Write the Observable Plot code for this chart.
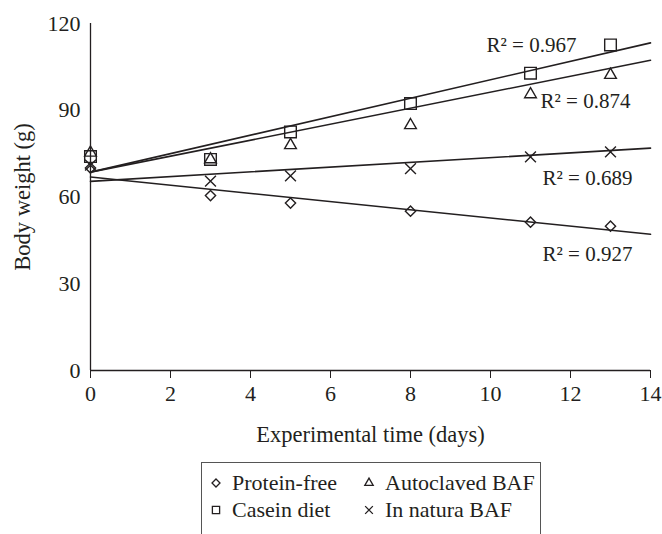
<!DOCTYPE html>
<html><head><meta charset="utf-8">
<script src="https://cdn.jsdelivr.net/npm/d3@7"></script>
<script src="https://cdn.jsdelivr.net/npm/@observablehq/plot@0.6"></script>
<style>
body{margin:0;background:#fff;font-family:"Liberation Serif","Times New Roman","DejaVu Serif",serif;color:#231f20;}
svg text{font-family:"Liberation Serif","Times New Roman","DejaVu Serif",serif;}
#wrap{position:relative;width:662px;height:534px;overflow:hidden;}
#legend{position:absolute;left:201px;top:462px;width:340px;height:90px;border:1.5px solid #555;box-sizing:border-box;font-size:22px;}
.item{position:absolute;white-space:nowrap;line-height:24px;display:flex;align-items:center;}
.item svg{margin-right:10px;overflow:visible;}
</style></head><body><div id="wrap"><div id="chart"></div><div id="legend"></div></div>
<script>
// ---- data ----
const days = [0, 3, 5, 8, 11, 13];
const proteinFree = [70.0, 60.5, 57.9, 55.1, 51.3, 49.9];
const casein      = [74.0, 73.0, 82.5, 92.3, 102.8, 112.6];
const autoclaved  = [75.3, 73.0, 77.9, 84.8, 95.5, 102.2];
const inNatura    = [71.0, 65.5, 67.3, 69.8, 73.9, 75.6];

// fitted trend lines (value at day 0 and at day 14)
const fitDays = [0, 14];
const proteinFreeFit = [66.9, 47.1];
const caseinFit      = [68.6, 113.3];
const autoclavedFit  = [68.6, 107.3];
const inNaturaFit    = [65.4, 76.9];

const r2Labels = ["R\u00B2 = 0.967", "R\u00B2 = 0.874", "R\u00B2 = 0.689", "R\u00B2 = 0.927"];
const seriesNames = ["Protein-free", "Autoclaved BAF", "Casein diet", "In natura BAF"];
const xTicks = [0, 2, 4, 6, 8, 10, 12, 14];
const yTicks = [0, 30, 60, 90, 120];

const ink = "#231f20";
const font = "'Liberation Serif','Times New Roman','DejaVu Serif',serif";
const pts = (vals) => days.map((d, i) => ({day: d, w: vals[i]}));
const fit = (vals) => fitDays.map((d, i) => ({day: d, w: vals[i]}));

const series = [
  {vals: proteinFree, fit: proteinFreeFit, symbol: "diamond2", r: 4.6},
  {vals: casein, fit: caseinFit, symbol: "square2", r: 7.4},
  {vals: autoclaved, fit: autoclavedFit, symbol: "triangle2", r: 5.6},
  {vals: inNatura, fit: inNaturaFit, symbol: "times", r: 5.0}
];

// label anchors in data units (day, weight)
const labelAt = [[9.9, 112.4], [11.25, 93.0], [11.3, 66.4], [11.3, 40.1]];
const labelData = r2Labels.map((t, i) => ({t, day: labelAt[i][0], w: labelAt[i][1]}));

const marks = [
  Plot.ruleX([0], {y1: 0, y2: 120, stroke: ink, strokeWidth: 1.3}),
  Plot.ruleY([0], {x1: 0, x2: 14, stroke: ink, strokeWidth: 1.3}),
  Plot.axisX({ticks: xTicks, tickSize: 8, tickPadding: 7, label: null, stroke: ink, fill: ink, fontSize: 22, fontFamily: font}),
  Plot.axisY({ticks: yTicks, tickSize: 0, tickPadding: 10, label: null, fill: ink, fontSize: 22, fontFamily: font}),
  Plot.text(["Experimental time (days)"], {frameAnchor: "bottom", textAnchor: "middle", dy: 71, fontSize: 22.5, fill: ink, fontFamily: font}),
  Plot.text(["Body weight (g)"], {frameAnchor: "left", textAnchor: "middle", dx: -68, rotate: -90, fontSize: 22.5, fill: ink, fontFamily: font})
];
for (const s of series) {
  marks.push(Plot.line(fit(s.fit), {x: "day", y: "w", stroke: ink, strokeWidth: 1.6}));
}
for (const s of series) {
  marks.push(Plot.dot(pts(s.vals), {x: "day", y: "w", symbol: () => s.symbol, r: s.r, stroke: ink, strokeWidth: 1.4, fill: "none"}));
}
marks.push(Plot.text(labelData, {x: "day", y: "w", text: "t", textAnchor: "start", fontSize: 21, fill: ink, fontFamily: font}));

const chart = Plot.plot({
  width: 662, height: 455,
  marginLeft: 90, marginRight: 12, marginTop: 23, marginBottom: 85,
  style: {fontFamily: font, color: ink, background: "#fff"},
  x: {domain: [0, 14]},
  y: {domain: [0, 120]},
  symbol: {type: "identity"},
  marks
});
document.getElementById("chart").appendChild(chart);

// legend
const legendSymbols = ["diamond2", "triangle2", "square2", "times"];
const legendSizes = [3.6, 4.0, 4.6, 3.6];
const symMap = {diamond2: d3.symbolDiamond2, triangle2: d3.symbolTriangle2, square2: d3.symbolSquare2, times: d3.symbolTimes};
const pos = [[8, 8], [161, 8], [8, 35], [161, 35]];
const leg = document.getElementById("legend");
seriesNames.forEach((name, i) => {
  const div = document.createElement("div");
  div.className = "item";
  div.style.left = pos[i][0] + "px";
  div.style.top = pos[i][1] + "px";
  const rr = legendSizes[i];
  const path = d3.symbol(symMap[legendSymbols[i]], Math.PI * rr * rr)();
  div.innerHTML = `<svg width="12" height="12" viewBox="-6 -6 12 12"><path d="${path}" fill="none" stroke="${ink}" stroke-width="1.3"/></svg><span>${name}</span>`;
  leg.appendChild(div);
});
</script></body></html>
